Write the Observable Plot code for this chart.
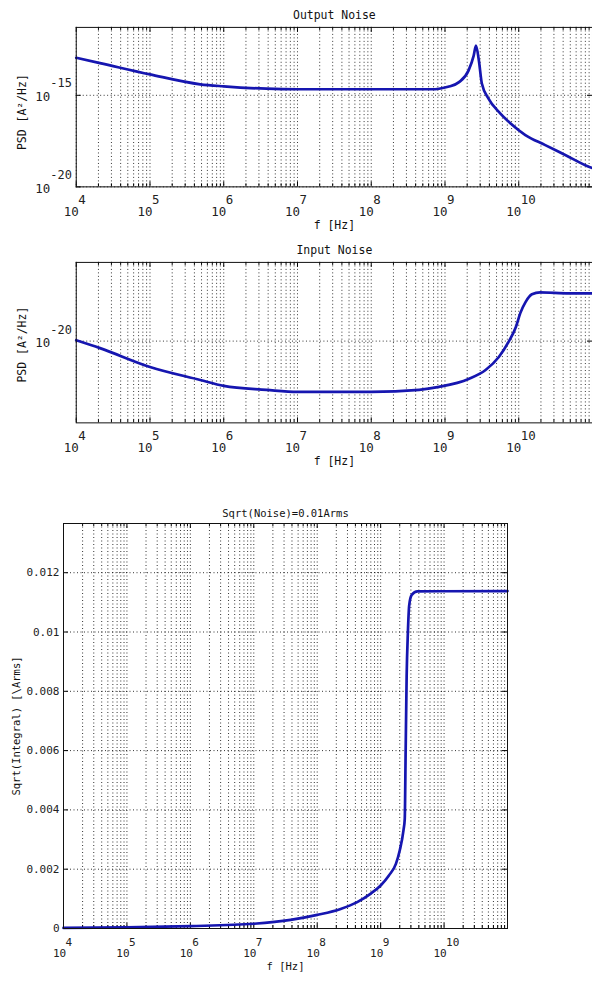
<!DOCTYPE html>
<html><head><meta charset="utf-8">
<script src="https://cdn.jsdelivr.net/npm/d3@7"></script>
<script src="https://cdn.jsdelivr.net/npm/@observablehq/plot@0.6"></script>
<style>
body{margin:0;background:#fff;}
#wrap{position:relative;width:592px;height:981px;overflow:hidden;background:#fff;}
#wrap svg{position:absolute;left:0;overflow:visible;}
</style></head><body><div id="wrap"></div>
<script>
// ---- data ----
const outFreq = [1e4, 2.1e4, 1e5, 4.8e5, 1e6, 3.8e6, 1e7, 1e8, 6.6e8, 8.3e8, 1.1e9, 1.55e9, 2.09e9, 2.45e9, 2.63e9, 2.88e9, 3.16e9, 3.89e9, 5.37e9, 7.76e9, 1.23e10, 2.29e10, 4.27e10, 8.9e10, 1e11];
const outPsd = [1.12e-13, 5.75e-14, 1.38e-14, 3.98e-15, 3.09e-15, 2.29e-15, 2.14e-15, 2.14e-15, 2.14e-15, 2.29e-15, 2.9e-15, 5.25e-15, 2.29e-14, 1.48e-13, 5.25e-13, 7.94e-14, 4.37e-15, 6.61e-16, 1.23e-16, 2.88e-17, 6.76e-18, 1.91e-18, 5.5e-19, 1.26e-19, 1.05e-19];

const inFreq = [1e4, 2.1e4, 1e5, 4.8e5, 1e6, 3.8e6, 1e7, 1e8, 4.47e8, 8.3e8, 2.09e9, 3.55e9, 5.37e9, 7.24e9, 9.12e9, 1.05e10, 1.23e10, 1.51e10, 1.95e10, 4.79e10, 1e11];
const inPsd = [1.02e-20, 8.5e-21, 5.5e-21, 4.07e-21, 3.55e-21, 3.24e-21, 3.09e-21, 3.09e-21, 3.24e-21, 3.47e-21, 4.17e-21, 5.13e-21, 6.92e-21, 9.77e-21, 1.38e-20, 1.91e-20, 2.45e-20, 2.95e-20, 3.09e-20, 3.02e-20, 3.02e-20];

const intFreq = [1e4, 1e5, 1e6, 1e7, 3.8e7, 1e8, 2.34e8, 4.27e8, 6.9e8, 1e9, 1.35e9, 1.74e9, 2.0e9, 2.29e9, 2.4e9, 2.48e9, 2.57e9, 2.69e9, 2.82e9, 3.09e9, 3.8e9, 1e11];
const intRms = [0.00002, 0.00004, 0.00008, 0.00016, 0.00029, 0.00046, 0.00066, 0.00089, 0.00117, 0.00145, 0.00179, 0.00218, 0.00263, 0.00331, 0.0037, 0.0060, 0.0085, 0.0100, 0.0109, 0.01125, 0.01137, 0.01138];

const decades = [1e4, 1e5, 1e6, 1e7, 1e8, 1e9, 1e10];
const decadeExp = ["4", "5", "6", "7", "8", "9", "10"];
const outYTicks = [1e-20, 1e-15];
const outYExp = ["-20", "-15"];
const inYTicks = [1e-20];
const inYExp = ["-20"];
const rmsTicks = [0, 0.002, 0.004, 0.006, 0.008, 0.01, 0.012];
const rmsLabels = ["0", "0.002", "0.004", "0.006", "0.008", "0.01", "0.012"];
const titles = ["Output Noise", "Input Noise", "Sqrt(Noise)=0.01Arms"];
const xLabel = "f [Hz]";
const psdLabel = "PSD [A\u00B2/Hz]";
const rmsLabel = "Sqrt(Integral) [\\Arms]";

const minorTicks = d3.range(4, 11).flatMap(k => d3.range(2, 10).map(m => m * Math.pow(10, k)));

const LINE = "#1616b0";
const FONT = "DejaVu Sans Mono";
const wrap = document.getElementById("wrap");

function panel(o) {
  const ph = o.height - o.mt - o.mb;
  const pw = o.width - o.ml - o.mr;
  const grid = {stroke: "#000", strokeDasharray: "1,2.5", strokeOpacity: 0.8, strokeWidth: 1};
  const fs = o.fs;
  const T = {lineAnchor: "middle", fill: "#222"};
  const marks = [
    Plot.ruleX(minorTicks, {x: d => d, ...grid}),
    Plot.ruleX(decades, {x: d => d, ...grid}),
    Plot.ruleY(o.yGrid, {y: d => d, ...grid}),
    Plot.ruleX(decades, {x: d => d, insetTop: ph - 5, stroke: "#000"}),
    Plot.ruleX(decades, {x: d => d, insetBottom: ph - 5, stroke: "#000"}),
    Plot.ruleX(minorTicks, {x: d => d, insetTop: ph - 3, stroke: "#000"}),
    Plot.ruleX(minorTicks, {x: d => d, insetBottom: ph - 3, stroke: "#000"}),
    Plot.ruleY(o.yGrid, {y: d => d, insetRight: pw - 5, stroke: "#000"}),
    Plot.ruleY(o.yGrid, {y: d => d, insetLeft: pw - 5, stroke: "#000"}),
    Plot.line(o.xs.map((x, i) => ({x, y: o.ys[i]})), {x: "x", y: "y", stroke: LINE, strokeWidth: 2.7, curve: "monotone-x"}),
    Plot.frame({stroke: "#111", strokeWidth: 1}),
    // x tick labels
    Plot.text(decades, {x: d => d, text: () => "10", frameAnchor: "bottom", dy: o.xTenDy, dx: o.xTenDx, textAnchor: "middle", fontSize: o.tfs, ...T}),
    Plot.text(decades, {x: d => d, text: (d, i) => decadeExp[i], frameAnchor: "bottom", dy: o.xExpDy, dx: o.xExpDx, textAnchor: "start", fontSize: o.tfs, ...T}),
    // title and axis labels
    Plot.text([o.title], {text: d => d, frameAnchor: "top", dy: o.titleDy, textAnchor: "middle", fontSize: o.titleFs, ...T, fill: "#111"}),
    Plot.text([xLabel], {text: d => d, frameAnchor: "bottom", dy: o.xLabDy, textAnchor: "middle", fontSize: fs, ...T, fill: "#111"}),
    Plot.text([o.yLabel], {text: d => d, frameAnchor: "left", dx: o.yLabDx, dy: o.yLabDy, rotate: -90, textAnchor: "middle", fontSize: fs, ...T, fill: "#111"}),
    ...o.extra
  ];
  const svg = Plot.plot({
    width: o.width, height: o.height,
    marginTop: o.mt, marginBottom: o.mb, marginLeft: o.ml, marginRight: o.mr,
    x: {type: "log", domain: [1e4, 1e11], axis: null},
    y: {type: o.yType, domain: o.yDomain, axis: null},
    style: {fontFamily: FONT, background: "transparent", overflow: "visible"},
    marks
  });
  svg.style.top = o.top + "px";
  wrap.appendChild(svg);
}

// Output noise
panel({
  top: 0, width: 594, height: 235, mt: 27, mb: 48, ml: 76, mr: 0,
  yType: "log", yDomain: [1e-20, 5.1e-12], yGrid: outYTicks,
  xs: outFreq, ys: outPsd, title: titles[0], yLabel: psdLabel,
  fs: 11.5, tfs: 12.5, titleFs: 11.5, titleDy: -12,
  xTenDy: 25, xTenDx: -5, xExpDy: 13, xExpDx: 2, xLabDy: 39,
  yLabDx: -54, yLabDy: 5,
  extra: [
    Plot.text(outYTicks, {y: d => d, text: () => "10", frameAnchor: "left", textAnchor: "end", lineAnchor: "middle", dx: -26, dy: 2, fontSize: 12.5, fill: "#222"}),
    Plot.text(outYTicks, {y: d => d, text: (d, i) => outYExp[i], frameAnchor: "left", textAnchor: "start", lineAnchor: "middle", dx: -26, dy: -12, fontSize: 12, fill: "#222"})
  ]
});

// Input noise
panel({
  top: 235, width: 594, height: 235, mt: 27, mb: 47, ml: 76, mr: 0,
  yType: "log", yDomain: [1.51e-21, 6.17e-20], yGrid: inYTicks,
  xs: inFreq, ys: inPsd, title: titles[1], yLabel: psdLabel,
  fs: 11.5, tfs: 12.5, titleFs: 11.5, titleDy: -12,
  xTenDy: 25, xTenDx: -5, xExpDy: 13, xExpDx: 2, xLabDy: 39,
  yLabDx: -54, yLabDy: 2,
  extra: [
    Plot.text(inYTicks, {y: d => d, text: () => "10", frameAnchor: "left", textAnchor: "end", lineAnchor: "middle", dx: -26, dy: 2, fontSize: 12.5, fill: "#222"}),
    Plot.text(inYTicks, {y: d => d, text: (d, i) => inYExp[i], frameAnchor: "left", textAnchor: "start", lineAnchor: "middle", dx: -26, dy: -11, fontSize: 12, fill: "#222"})
  ]
});

// Integrated noise
panel({
  top: 490, width: 592, height: 491, mt: 33, mb: 53, ml: 63, mr: 85,
  yType: "linear", yDomain: [0, 0.01366], yGrid: rmsTicks,
  xs: intFreq, ys: intRms, title: titles[2], yLabel: rmsLabel,
  fs: 10.5, tfs: 11, titleFs: 10.5, titleDy: -10,
  xTenDy: 25, xTenDx: -4, xExpDy: 14, xExpDx: 2, xLabDy: 38,
  yLabDx: -47, yLabDy: 0,
  extra: [
    Plot.text(rmsTicks, {y: d => d, text: (d, i) => rmsLabels[i], frameAnchor: "left", textAnchor: "end", lineAnchor: "middle", dx: -4, fontSize: 11, fill: "#222"})
  ]
});
</script></body></html>
